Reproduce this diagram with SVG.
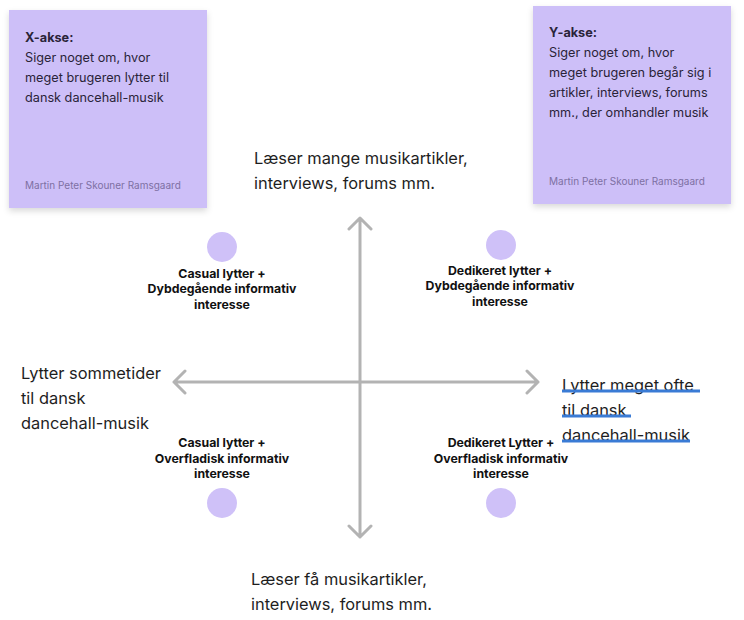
<svg xmlns="http://www.w3.org/2000/svg" width="744" height="620" viewBox="0 0 744 620">
<defs>
<filter id="sh" x="-10%" y="-10%" width="130%" height="130%">
<feDropShadow dx="0" dy="3" stdDeviation="3" flood-color="#000" flood-opacity="0.15"/>
</filter>
<style>
text{font-family:Inter,"Noto Sans","Liberation Sans",sans-serif;fill:#1e1e1e}
.note{fill:#cdbff8}
.nt{font-size:12.7px;fill:#2a2438}
.nb{font-size:12.7px;font-weight:700;fill:#2a2438}
.au{font-size:10px;fill:#7d70a3}
.ax{stroke:#b3b3b3;stroke-width:3;fill:none;stroke-linecap:round;stroke-linejoin:round}
.dot{fill:#cfc1f8}
.lb{font-size:12.3px;font-weight:700;text-anchor:middle;fill:#111}
.al{font-size:16.4px;fill:#1e1e1e}
.ul{stroke:#3a7bd5;stroke-width:3}
</style>
</defs>
<g id="note-x">
<rect class="note" x="9" y="10" width="198" height="198" filter="url(#sh)"/>
<text class="nb" x="25" y="42">X-akse:</text>
<text class="nt" x="25" y="62">Siger noget om, hvor</text>
<text class="nt" x="25" y="82">meget brugeren lytter til</text>
<text class="nt" x="25" y="102">dansk dancehall-musik</text>
<text class="au" x="25" y="189">Martin Peter Skouner Ramsgaard</text>
</g>
<g id="note-y">
<rect class="note" x="533" y="6" width="198" height="198" filter="url(#sh)"/>
<text class="nb" x="549" y="37">Y-akse:</text>
<text class="nt" x="549" y="57">Siger noget om, hvor</text>
<text class="nt" x="549" y="77">meget brugeren begår sig i</text>
<text class="nt" x="549" y="97">artikler, interviews, forums</text>
<text class="nt" x="549" y="117">mm., der omhandler musik</text>
<text class="au" x="549" y="185">Martin Peter Skouner Ramsgaard</text>
</g>
<g id="connectors">
<path class="ax" d="M360 218 V537 M349 229 L360 218 L371 229 M349 526 L360 537 L371 526"/>
<path class="ax" d="M174 382 H538 M185 371 L174 382 L185 393 M527 371 L538 382 L527 393"/>
</g>
<g id="q1">
<circle class="dot" cx="222" cy="247" r="15"/>
<text class="lb" x="222" y="278">Casual lytter +</text>
<text class="lb" x="222" y="293">Dybdegående informativ</text>
<text class="lb" x="222" y="309">interesse</text>
</g>
<g id="q2">
<circle class="dot" cx="501" cy="245" r="15"/>
<text class="lb" x="500" y="275">Dedikeret lytter +</text>
<text class="lb" x="500" y="290">Dybdegående informativ</text>
<text class="lb" x="500" y="306">interesse</text>
</g>
<g id="q3">
<circle class="dot" cx="222" cy="503" r="15"/>
<text class="lb" x="222" y="447">Casual lytter +</text>
<text class="lb" x="222" y="463">Overfladisk informativ</text>
<text class="lb" x="222" y="478">interesse</text>
</g>
<g id="q4">
<circle class="dot" cx="501" cy="503" r="15"/>
<text class="lb" x="501" y="447">Dedikeret Lytter +</text>
<text class="lb" x="501" y="463">Overfladisk informativ</text>
<text class="lb" x="501" y="478">interesse</text>
</g>
<g id="label-top">
<text class="al" x="254" y="164">Læser mange musikartikler,</text>
<text class="al" x="254" y="189">interviews, forums mm.</text>
</g>
<g id="label-bottom">
<text class="al" x="251" y="585">Læser få musikartikler,</text>
<text class="al" x="251" y="610">interviews, forums mm.</text>
</g>
<g id="label-left">
<text class="al" x="21" y="379">Lytter sommetider</text>
<text class="al" x="21" y="404">til dansk</text>
<text class="al" x="21" y="429">dancehall-musik</text>
</g>
<g id="label-right">
<text class="al" x="562" y="391">Lytter meget ofte</text>
<text class="al" x="562" y="416">til dansk</text>
<text class="al" x="562" y="441">dancehall-musik</text>
<line class="ul" x1="562" y1="391" x2="700" y2="391"/>
<line class="ul" x1="562" y1="416" x2="631" y2="416"/>
<line class="ul" x1="562" y1="441" x2="690" y2="441"/>
</g>
</svg>
